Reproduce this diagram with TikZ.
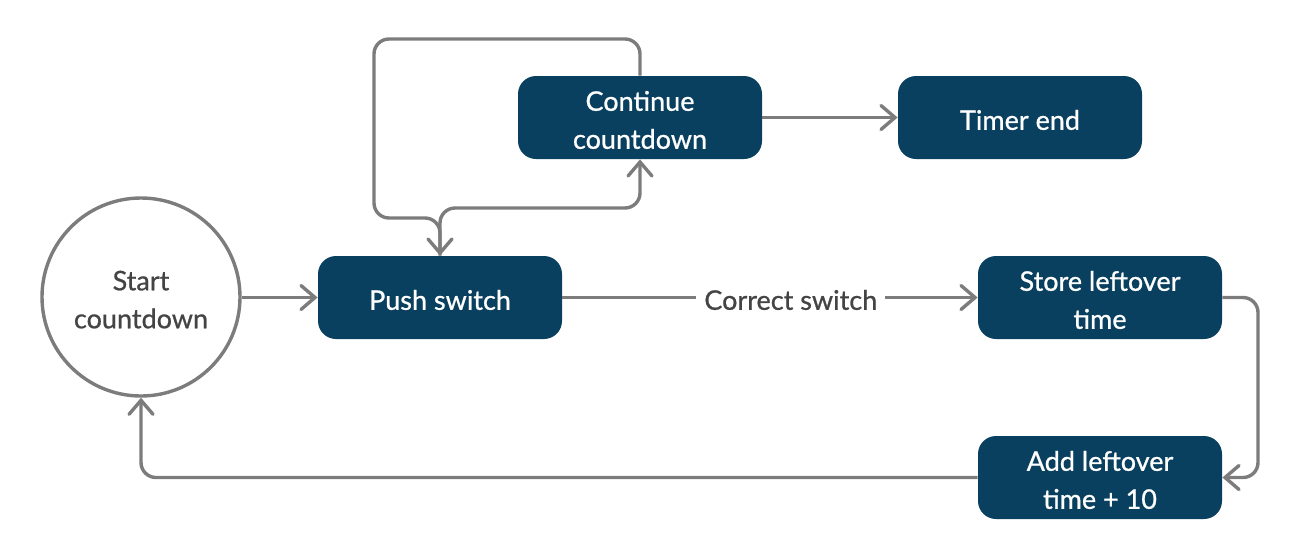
\documentclass[tikz,border=0pt]{standalone}
\usepackage{fontspec}
\setmainfont{Lato}[FakeBold=0.8]
\usetikzlibrary{arrows.meta}
\definecolor{boxblue}{HTML}{0A405F}
\definecolor{linegray}{HTML}{7C7C7C}
\definecolor{textgray}{HTML}{444444}
\newcommand{\tstrut}{\rule{0pt}{12.4pt}}
\begin{document}
\begin{tikzpicture}[x=0.5pt,y=-0.5pt,
  stepbox/.style={fill=boxblue, rounded corners=9pt, minimum width=122pt, minimum height=41.5pt, text=white, align=center, font=\fontsize{13.5}{19}\selectfont, inner sep=0pt},
  startnode/.style={circle, draw=linegray, line width=1.7pt, minimum size=99pt, text=textgray, align=center, font=\fontsize{13.5}{19}\selectfont, inner sep=0pt},
  conn/.style={draw=linegray, line width=1.7pt, -{Straight Barb[length=7pt,width=12pt,line cap=round]}},
  lbl/.style={fill=white, text=textgray, font=\fontsize{13.5}{19}\selectfont, inner sep=4pt}
]
\useasboundingbox (0,0) rectangle (1300,558);
\node[startnode] (start) at (141,297) {\tstrut Start\\countdown};
\node[stepbox] (push) at (440,297.5) {\tstrut Push switch};
\node[stepbox] (cont) at (640,117.5) {\tstrut Continue\\countdown};
\node[stepbox] (timer) at (1020,117.5) {\tstrut Timer end};
\node[stepbox] (store) at (1100,297.5) {\tstrut Store leftover\\time};
\node[stepbox] (add) at (1100,477.5) {\tstrut Add leftover\\time + 10};
\coordinate (c1) at (640,39);
\coordinate (c2) at (374,39);
\coordinate (c3) at (374,218);
\coordinate (c4) at (440,218);
\coordinate (c5) at (440,208);
\coordinate (c6) at (640,208);
\coordinate (c7) at (1258,297.5);
\coordinate (c8) at (1258,477.5);
\draw[conn, rounded corners=7.5pt] (cont.north) -- (c1) -- (c2) -- (c3) -- (c4) -- (push.north);
\draw[conn, rounded corners=7.5pt] (push.north) -- (c5) -- (c6) -- (cont.south);
\draw[conn] (start.east |- push.west) -- (push.west);
\draw[conn] (cont.east) -- (timer.west);
\draw[conn] (push.east) -- node[lbl, pos=0.55] {\tstrut Correct switch} (store.west);
\draw[conn, rounded corners=7.5pt] (store.east) -- (c7) -- (c8) -- (add.east);
\draw[conn, rounded corners=7.5pt] (add.west) -| (start.south);
\end{tikzpicture}
\end{document}
